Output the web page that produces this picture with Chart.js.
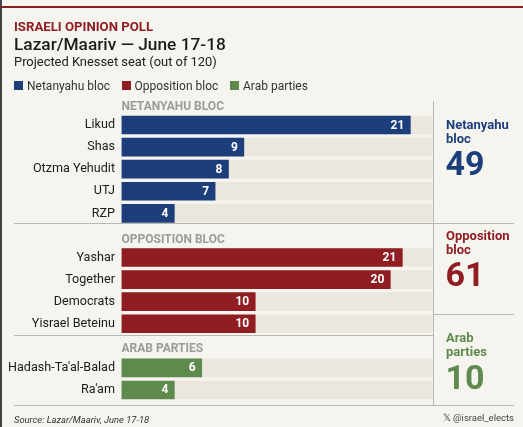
<!DOCTYPE html>
<html>
<head>
<meta charset="utf-8">
<script src="https://cdn.jsdelivr.net/npm/chart.js@4"></script>
<style>
  html, body { margin: 0; padding: 0; background: #f5f4ef; }
  body { width: 523px; height: 427px; position: relative; overflow: hidden; font-family: Roboto, sans-serif; color: #1b1b1b; }
  #chartBox { position: absolute; left: 0; top: 0; width: 523px; height: 427px; }
  #chart { display: block; }
  .t { position: absolute; white-space: nowrap; line-height: 1; }
  .rule { position: absolute; background: #b9b9b4; }
  .swatch { position: absolute; width: 9px; height: 9px; top: 81px; }
  .head { color: #9b9b98; font-weight: 700; font-size: 12px; left: 121.5px; }
  .side { font-weight: 700; font-size: 13px; line-height: 14px; left: 446px; }
  .big { font-weight: 700; font-size: 34px; left: 445.5px; }
</style>
</head>
<body>
<div id="chartBox"><canvas id="chart" width="523" height="427"></canvas></div>

<div class="rule" style="left:0;top:0;width:1.5px;height:427px;background:#444"></div>
<div class="rule" style="left:1px;top:6px;width:522px;height:2px;background:#8f1d22"></div>

<div class="t" style="left:14px;top:20px;font-size:13.2px;font-weight:700;color:#8f1d22">ISRAELI OPINION POLL</div>
<div class="t" style="left:14px;top:36px;font-size:17.3px;font-weight:500">Lazar/Maariv — June 17-18</div>
<div class="t" style="left:14px;top:56px;font-size:12.9px">Projected Knesset seat (out of 120)</div>

<div class="swatch" style="left:14px;background:#1c3f7c"></div>
<div class="t" style="left:27px;top:79.5px;font-size:12px;color:#333">Netanyahu bloc</div>
<div class="swatch" style="left:121.5px;background:#8f1d22"></div>
<div class="t" style="left:134.5px;top:79.5px;font-size:12px;color:#333">Opposition bloc</div>
<div class="swatch" style="left:229.5px;background:#5f8a4d"></div>
<div class="t" style="left:243px;top:79.5px;font-size:12px;color:#333">Arab parties</div>

<div class="t head" style="top:100px">NETANYAHU BLOC</div>
<div class="t head" style="top:233px">OPPOSITION BLOC</div>
<div class="t head" style="top:342px">ARAB PARTIES</div>

<div class="rule" style="left:14px;top:223px;width:500px;height:1px"></div>
<div class="rule" style="left:14px;top:335px;width:419px;height:1px"></div>
<div class="rule" style="left:433px;top:314px;width:81px;height:1px"></div>
<div class="rule" style="left:14px;top:405px;width:500px;height:1px"></div>
<div class="rule" style="left:433px;top:101px;width:1px;height:304px"></div>

<div class="t side" style="top:118px;color:#1c3f7c">Netanyahu<br>bloc</div>
<div class="t big" style="top:146px;color:#1c3f7c">49</div>
<div class="t side" style="top:229px;color:#8f1d22">Opposition<br>bloc</div>
<div class="t big" style="top:257px;color:#8f1d22">61</div>
<div class="t side" style="top:331px;color:#5f8a4d">Arab<br>parties</div>
<div class="t big" style="top:360px;color:#5f8a4d">10</div>

<div class="t" style="left:14px;top:414.5px;font-size:9.4px;font-style:italic;color:#333">Source: Lazar/Maariv, June 17-18</div>
<div class="t" style="right:9px;top:413px;font-size:9.5px;color:#444">𝕏 @israel_elects</div>

<script>
// blank rows hold the section headings
const parties = ['Likud', 'Shas', 'Otzma Yehudit', 'UTJ', 'RZP', '', 'Yashar', 'Together', 'Democrats', 'Yisrael Beteinu', '', 'Hadash-Ta\'al-Balad', 'Ra\'am'];
const seatLabels = ['21', '9', '8', '7', '4', '', '21', '20', '10', '10', '', '6', '4'];
// bar ends as measured, some run slightly off their label in the picture
const barLengths = [21.6, 9.15, 8, 7, 3.95, null, 21, 20.1, 10, 10, null, 6, 3.95];
const trackLengths = [23.27, 23.27, 23.27, 23.27, 23.27, null, 23.27, 23.27, 23.27, 23.27, null, 23.27, 23.27];
const barColors = ['#1c3f7c', '#1c3f7c', '#1c3f7c', '#1c3f7c', '#1c3f7c', null, '#8f1d22', '#8f1d22', '#8f1d22', '#8f1d22', null, '#5f8a4d', '#5f8a4d'];

// seat number inside the end of each bar
const seatLabelPlugin = {
  id: 'seatLabels',
  afterDatasetsDraw(chart) {
    const ctx = chart.ctx;
    ctx.save();
    ctx.font = '700 12px Roboto';
    ctx.fillStyle = '#ffffff';
    ctx.textAlign = 'right';
    ctx.textBaseline = 'middle';
    chart.getDatasetMeta(0).data.forEach((bar, i) => {
      if (seatLabels[i]) ctx.fillText(seatLabels[i], bar.x - 6, bar.y + 0.5);
    });
    ctx.restore();
  }
};

new Chart(document.getElementById('chart').getContext('2d'), {
  type: 'bar',
  plugins: [seatLabelPlugin],
  data: {
    labels: parties,
    datasets: [
      { data: barLengths, backgroundColor: barColors, barThickness: 18, grouped: false, order: 1 },
      { data: trackLengths, backgroundColor: '#ebe7de', barThickness: 18, grouped: false, order: 2 }
    ]
  },
  options: {
    indexAxis: 'y',
    responsive: false,
    animation: false,
    layout: { padding: { top: 114, bottom: 26, right: 90.3, left: 0 } },
    plugins: { legend: { display: false }, tooltip: { enabled: false } },
    scales: {
      x: { display: false, min: 0, max: 23.27 },
      y: {
        afterFit(scale) { scale.width = 121.5; },
        grid: { display: false, drawTicks: false },
        border: { display: false },
        ticks: { autoSkip: false, padding: 6.5, color: '#1b1b1b', font: { family: 'Roboto', size: 12.6 } }
      }
    }
  }
});
</script>
</body>
</html>
